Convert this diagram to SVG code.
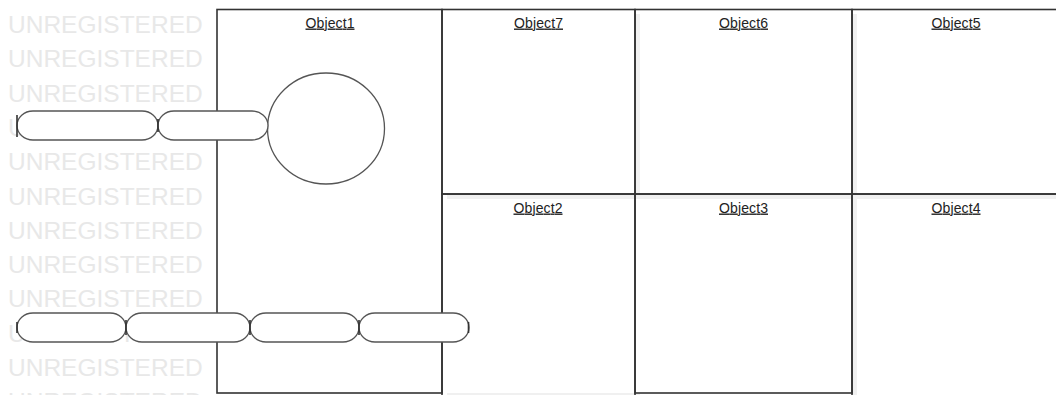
<svg xmlns="http://www.w3.org/2000/svg" width="1056" height="395" viewBox="0 0 1056 395">
<style>
.wm{font-family:"Liberation Sans",Arial,sans-serif;font-size:24.5px;fill:#e8e8e8}
.box{fill:none;stroke:#333;stroke-width:1.6}
.sh{fill:#f0f0f0;stroke:none}
.lbl{font-family:"Liberation Sans Narrow","Liberation Sans",Arial,sans-serif;font-size:14px;fill:#222;text-anchor:middle;text-decoration:underline}
.pill{fill:#ffffff;stroke:#555;stroke-width:1.3}
.tick{stroke:#333;stroke-width:1.6}
</style>
<rect width="1056" height="395" fill="#ffffff"/>
<g id="watermark">
<text class="wm" x="8" y="33">UNREGISTERED</text>
<text class="wm" x="8" y="67.3">UNREGISTERED</text>
<text class="wm" x="8" y="101.6">UNREGISTERED</text>
<text class="wm" x="8" y="135.9">UNREGISTERED</text>
<text class="wm" x="8" y="170.2">UNREGISTERED</text>
<text class="wm" x="8" y="204.5">UNREGISTERED</text>
<text class="wm" x="8" y="238.8">UNREGISTERED</text>
<text class="wm" x="8" y="273.1">UNREGISTERED</text>
<text class="wm" x="8" y="307.4">UNREGISTERED</text>
<text class="wm" x="8" y="341.7">UNREGISTERED</text>
<text class="wm" x="8" y="376">UNREGISTERED</text>
<text class="wm" x="8" y="410.3">UNREGISTERED</text>
</g>
<g id="shadows">
<rect class="sh" x="635" y="14" width="5" height="185"/>
<rect class="sh" x="447" y="194" width="193" height="5"/>
<rect class="sh" x="852" y="14" width="5" height="185"/>
<rect class="sh" x="640" y="194" width="217" height="5"/>
<rect class="sh" x="857" y="194" width="199" height="5"/>
<rect class="sh" x="852" y="199" width="5" height="199"/>
<rect class="sh" x="447" y="393" width="193" height="3"/>
</g>
<g id="Object1">
<rect class="box" x="217" y="9.5" width="225" height="383.5"/>
<text class="lbl" x="330" y="27.5" textLength="49" lengthAdjust="spacing">Object1</text>
</g>
<g id="Object7">
<rect class="box" x="442" y="9.5" width="193" height="184.5"/>
<text class="lbl" x="538.5" y="27.5" textLength="49" lengthAdjust="spacing">Object7</text>
</g>
<g id="Object6">
<rect class="box" x="635" y="9.5" width="217" height="184.5"/>
<text class="lbl" x="743.5" y="27.5" textLength="49" lengthAdjust="spacing">Object6</text>
</g>
<g id="Object5">
<rect class="box" x="852" y="9.5" width="210" height="184.5"/>
<text class="lbl" x="956" y="27.5" textLength="49" lengthAdjust="spacing">Object5</text>
</g>
<g id="Object2">
<rect class="box" x="442" y="194" width="193" height="210"/>
<text class="lbl" x="538" y="212.5" textLength="49" lengthAdjust="spacing">Object2</text>
</g>
<g id="Object3">
<rect class="box" x="635" y="194" width="217" height="199"/>
<text class="lbl" x="743.5" y="212.5" textLength="49" lengthAdjust="spacing">Object3</text>
</g>
<g id="Object4">
<rect class="box" x="852" y="194" width="210" height="210"/>
<text class="lbl" x="956" y="212.5" textLength="49" lengthAdjust="spacing">Object4</text>
</g>
<g id="Circle">
<ellipse class="pill" cx="326" cy="128.5" rx="58.5" ry="55.5"/>
</g>
<g id="connectors">
<g id="pillTop1">
<path class="pill" d="M33,111 H142 A16 14.5 0 0 1 158,125.5 A16 14.5 0 0 1 142,140 H33 A16 14.5 0 0 1 17,125.5 A16 14.5 0 0 1 33,111 Z"/>
</g>
<g id="pillTop2">
<path class="pill" d="M174,111 H252 A16 14.5 0 0 1 268,125.5 A16 14.5 0 0 1 252,140 H174 A16 14.5 0 0 1 158,125.5 A16 14.5 0 0 1 174,111 Z"/>
</g>
<g id="pillBot1">
<path class="pill" d="M33,313 H110 A16 14.5 0 0 1 126,327.5 A16 14.5 0 0 1 110,342 H33 A16 14.5 0 0 1 17,327.5 A16 14.5 0 0 1 33,313 Z"/>
</g>
<g id="pillBot2">
<path class="pill" d="M142,313 H234 A16 14.5 0 0 1 250,327.5 A16 14.5 0 0 1 234,342 H142 A16 14.5 0 0 1 126,327.5 A16 14.5 0 0 1 142,313 Z"/>
</g>
<g id="pillBot3">
<path class="pill" d="M266,313 H343 A16 14.5 0 0 1 359,327.5 A16 14.5 0 0 1 343,342 H266 A16 14.5 0 0 1 250,327.5 A16 14.5 0 0 1 266,313 Z"/>
</g>
<g id="pillBot4">
<path class="pill" d="M375,313 H453 A16 14.5 0 0 1 469,327.5 A16 14.5 0 0 1 453,342 H375 A16 14.5 0 0 1 359,327.5 A16 14.5 0 0 1 375,313 Z"/>
</g>
<line class="tick" x1="17" y1="115" x2="17" y2="137"/>
<line class="tick" x1="158" y1="119" x2="158" y2="132"/>
<line class="tick" x1="17" y1="322" x2="17" y2="333"/>
<line class="tick" x1="126" y1="320" x2="126" y2="335"/>
<line class="tick" x1="250" y1="320" x2="250" y2="335"/>
<line class="tick" x1="359" y1="320" x2="359" y2="335"/>
<line class="tick" x1="468.5" y1="322" x2="468.5" y2="333"/>
</g>
</svg>
